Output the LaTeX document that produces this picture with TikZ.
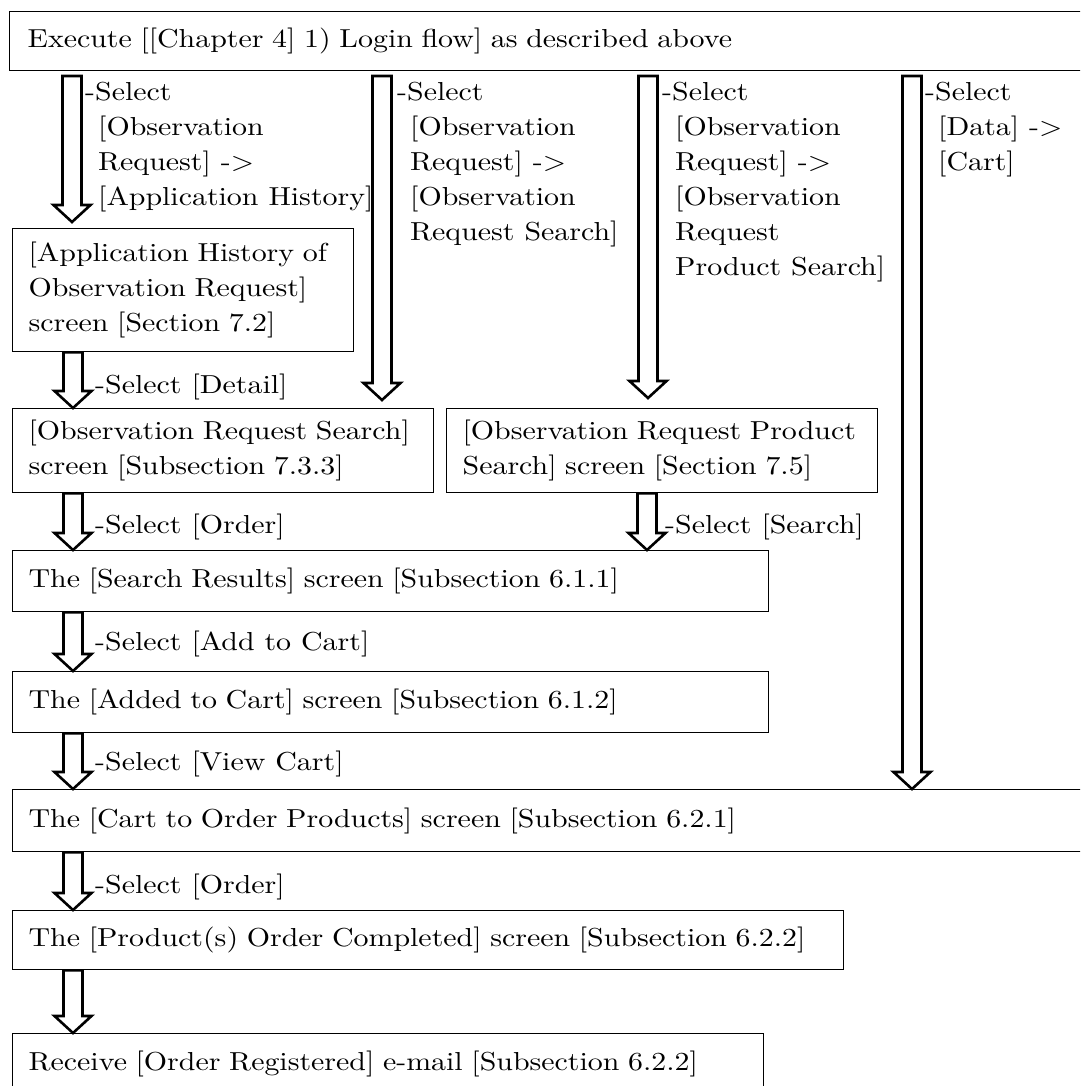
\documentclass[tikz,border=0pt]{standalone}
\usepackage{fontspec}
\setmainfont{lmroman10-regular.otf}[FakeStretch=1.15]
\usetikzlibrary{calc}
\newcommand\flowfont{\fontsize{26pt}{35pt}\selectfont}
% hollow block arrow from a start point (top of shaft) to a tip
\newcommand\flowarrow[2]{%
  \draw[flowarrow] let \p1=(#1), \p2=(#2) in
    (\x1-9.5pt,\y1) -- (\x1-9.5pt,\y2+17pt) -- (\x1-18.5pt,\y2+17pt)
    -- (\x1,\y2) -- (\x1+18.5pt,\y2+17pt) -- (\x1+9.5pt,\y2+17pt)
    -- (\x1+9.5pt,\y1) -- cycle;}
\begin{document}
\begin{tikzpicture}[x=1pt,y=-1pt,
  screen/.style={draw, line width=1.3pt, anchor=north west, inner xsep=16pt,
    inner ysep=0pt, align=left, font=\flowfont},
  note/.style={anchor=north west, inner sep=0pt, align=left, font=\flowfont},
  flowarrow/.style={draw, line width=2.6pt, line join=miter, fill=white}]
\useasboundingbox (0,0) rectangle (1080,1086);
\clip (0,0) rectangle (1080,1086);

% screens
\node[screen, inner xsep=18pt, minimum width=1100pt, text width=1064pt, minimum height=59pt]
  (login) at (9,11) {Execute [[Chapter 4] 1) Login flow] as described above};
\node[screen, minimum width=341pt, text width=309pt, minimum height=123pt]
  (hist) at (12,228) {\mbox{[Application History of}\\\mbox{Observation Request]}\\\mbox{screen [Section 7.2]}};
\node[screen, minimum width=421pt, text width=389pt, minimum height=84pt]
  (ors) at (12,408) {\mbox{[Observation Request Search]}\\\mbox{screen [Subsection 7.3.3]}};
\node[screen, minimum width=431pt, text width=399pt, minimum height=84pt]
  (orps) at (446,408) {\mbox{[Observation Request Product}\\\mbox{Search] screen [Section 7.5]}};
\node[screen, minimum width=756pt, text width=724pt, minimum height=61pt]
  (results) at (12,550) {The [Search Results] screen [Subsection 6.1.1]};
\node[screen, minimum width=756pt, text width=724pt, minimum height=61pt]
  (added) at (12,671) {The [Added to Cart] screen [Subsection 6.1.2]};
\node[screen, minimum width=1100pt, text width=1068pt, minimum height=62pt]
  (cart) at (12,789) {The [Cart to Order Products] screen [Subsection 6.2.1]};
\node[screen, minimum width=831pt, text width=799pt, minimum height=59pt]
  (done) at (12,910) {\mbox{The [Product(s) Order Completed] screen [Subsection 6.2.2]}};
\node[screen, minimum width=751pt, text width=719pt, minimum height=60pt]
  (mail) at (12,1033) {\mbox{Receive [Order Registered] e-mail [Subsection 6.2.2]}};

% column positions of the arrows
\coordinate (colA) at (72,76);
\coordinate (colB) at (382,76);
\coordinate (colC) at (648,76);
\coordinate (colD) at (912,76);
\coordinate (tipA) at (72,222);
\coordinate (tipB) at (382,400);
\coordinate (tipC) at (648,398);
\coordinate (left) at (73,0);
\coordinate (mid) at (647,0);

% arrows leaving the login step
\flowarrow{colA}{tipA}
\flowarrow{colB}{tipB}
\flowarrow{colC}{tipC}
\flowarrow{colD}{cart.north -| colD}

% arrows between screens
\flowarrow{hist.south -| left}{ors.north -| left}
\flowarrow{ors.south -| left}{results.north -| left}
\flowarrow{orps.south -| mid}{results.north -| mid}
\flowarrow{results.south -| left}{added.north -| left}
\flowarrow{added.south -| left}{cart.north -| left}
\flowarrow{cart.south -| left}{done.north -| left}
\flowarrow{done.south -| left}{mail.north -| left}

% arrow labels
\node[note] (lA) at (85,82) {-Select\\\hspace*{13pt}[Observation\\\hspace*{13pt}Request] -{}>\\\hspace*{13pt}[Application History]};
\node[note] (lB) at (397,82) {-Select\\\hspace*{13pt}[Observation\\\hspace*{13pt}Request] -{}>\\\hspace*{13pt}[Observation\\\hspace*{13pt}Request Search]};
\node[note] (lC) at (662,82) {-Select\\\hspace*{13pt}[Observation\\\hspace*{13pt}Request] -{}>\\\hspace*{13pt}[Observation\\\hspace*{13pt}Request\\\hspace*{13pt}Product Search]};
\node[note] (lD) at (925,82) {-Select\\\hspace*{13pt}[Data] -{}>\\\hspace*{13pt}[Cart]};
\node[note, anchor=base west] (lDetail) at (95,393) {-Select [Detail]};
\node[note, anchor=base west] (lOrder1) at (95,533) {-Select [Order]};
\node[note, anchor=base west] (lSearch) at (665,533) {-Select [Search]};
\node[note, anchor=base west] (lAdd) at (95,650) {-Select [Add to Cart]};
\node[note, anchor=base west] (lView) at (95,770) {-Select [View Cart]};
\node[note, anchor=base west] (lOrder2) at (95,893) {-Select [Order]};
\end{tikzpicture}
\end{document}
